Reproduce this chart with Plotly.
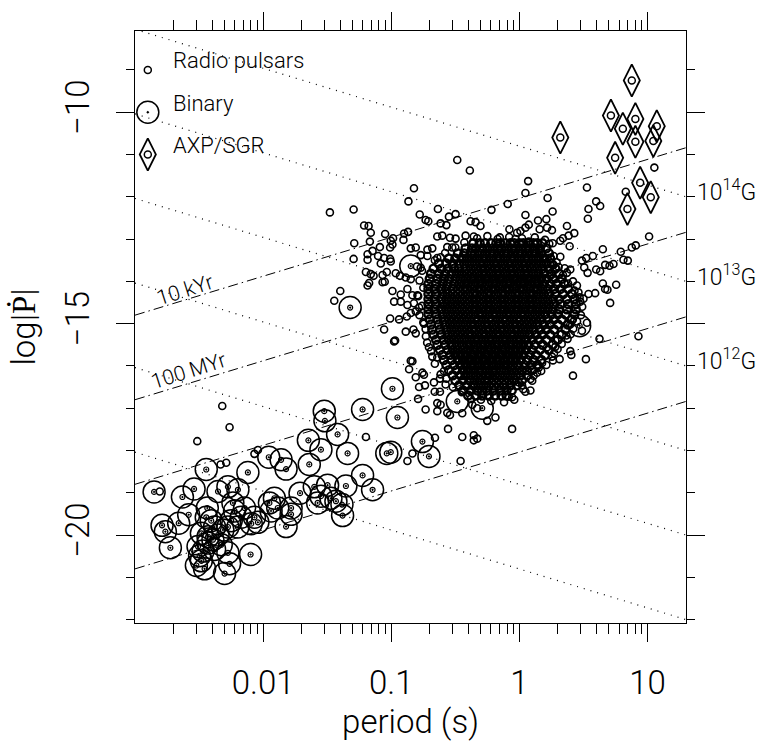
import numpy as np
import plotly.graph_objects as go

# ---------------- data ----------------
# all values: (log10 period [s], log10 |Pdot|)

# dense core of the radio-pulsar population, row by row (log|Pdot|, [log P ...])
radio_core_rows = [
    (-13.10, [-0.36,-0.31,-0.27,-0.22,-0.18,-0.15,-0.11,-0.07,-0.04,0.00,0.03,0.07,0.11,0.14,0.18]),
    (-13.22, [-0.42,-0.37,-0.34,-0.29,-0.25,-0.21,-0.17,-0.14,-0.10,-0.06,-0.03,0.01,0.05,0.08,0.12,0.16,0.21]),
    (-13.34, [-0.48,-0.43,-0.38,-0.35,-0.31,-0.27,-0.23,-0.20,-0.16,-0.12,-0.09,-0.05,-0.01,0.02,0.06,0.10,0.13,0.17,0.23]),
    (-13.46, [-0.55,-0.50,-0.45,-0.41,-0.37,-0.33,-0.29,-0.26,-0.22,-0.18,-0.15,-0.11,-0.07,-0.04,0.00,0.04,0.07,0.11,0.15,0.19,0.24]),
    (-13.58, [-0.63,-0.57,-0.52,-0.47,-0.43,-0.39,-0.35,-0.31,-0.28,-0.24,-0.20,-0.17,-0.13,-0.09,-0.06,-0.02,0.02,0.05,0.09,0.13,0.17,0.21,0.25]),
    (-13.70, [-0.67,-0.61,-0.56,-0.51,-0.47,-0.42,-0.38,-0.34,-0.30,-0.27,-0.23,-0.19,-0.16,-0.12,-0.08,-0.05,-0.01,0.03,0.06,0.10,0.14,0.18,0.23,0.28]),
    (-13.82, [-0.69,-0.63,-0.58,-0.53,-0.49,-0.45,-0.41,-0.37,-0.33,-0.29,-0.26,-0.22,-0.18,-0.15,-0.11,-0.07,-0.04,0.00,0.04,0.07,0.11,0.15,0.19,0.25,0.31]),
    (-13.94, [-0.70,-0.64,-0.59,-0.55,-0.50,-0.46,-0.42,-0.38,-0.35,-0.31,-0.27,-0.24,-0.20,-0.16,-0.13,-0.09,-0.05,-0.02,0.02,0.06,0.09,0.13,0.17,0.21,0.26,0.33]),
    (-14.06, [-0.71,-0.65,-0.60,-0.56,-0.51,-0.47,-0.43,-0.40,-0.36,-0.32,-0.29,-0.25,-0.21,-0.18,-0.14,-0.10,-0.07,-0.03,0.01,0.04,0.08,0.12,0.15,0.19,0.24,0.29,0.35]),
    (-14.18, [-0.71,-0.66,-0.61,-0.57,-0.52,-0.48,-0.44,-0.41,-0.37,-0.33,-0.30,-0.26,-0.22,-0.19,-0.15,-0.11,-0.08,-0.04,0.00,0.03,0.07,0.11,0.14,0.18,0.22,0.27,0.32,0.38]),
    (-14.30, [-0.71,-0.65,-0.60,-0.56,-0.52,-0.48,-0.44,-0.40,-0.36,-0.33,-0.29,-0.25,-0.22,-0.18,-0.14,-0.11,-0.07,-0.03,0.00,0.04,0.08,0.11,0.15,0.19,0.23,0.28,0.34,0.41]),
    (-14.42, [-0.71,-0.66,-0.61,-0.57,-0.53,-0.49,-0.45,-0.41,-0.37,-0.34,-0.30,-0.26,-0.23,-0.19,-0.15,-0.12,-0.08,-0.04,-0.01,0.03,0.07,0.10,0.14,0.18,0.22,0.26,0.31,0.37,0.43]),
    (-14.54, [-0.71,-0.65,-0.60,-0.56,-0.52,-0.48,-0.44,-0.40,-0.36,-0.33,-0.29,-0.25,-0.22,-0.18,-0.14,-0.11,-0.07,-0.03,0.00,0.04,0.08,0.11,0.15,0.19,0.23,0.27,0.32,0.38,0.44]),
    (-14.66, [-0.71,-0.66,-0.61,-0.57,-0.53,-0.49,-0.45,-0.41,-0.37,-0.34,-0.30,-0.26,-0.23,-0.19,-0.15,-0.12,-0.08,-0.04,-0.01,0.03,0.07,0.10,0.14,0.18,0.22,0.26,0.31,0.37,0.44]),
    (-14.78, [-0.71,-0.65,-0.60,-0.56,-0.52,-0.48,-0.44,-0.40,-0.36,-0.32,-0.29,-0.25,-0.21,-0.18,-0.14,-0.10,-0.07,-0.03,0.01,0.04,0.08,0.12,0.16,0.20,0.25,0.30,0.36,0.43]),
    (-14.90, [-0.70,-0.64,-0.59,-0.55,-0.51,-0.47,-0.43,-0.39,-0.35,-0.32,-0.28,-0.24,-0.21,-0.17,-0.13,-0.10,-0.06,-0.02,0.01,0.05,0.09,0.13,0.17,0.22,0.27,0.33,0.41]),
    (-15.02, [-0.69,-0.63,-0.58,-0.54,-0.50,-0.46,-0.42,-0.38,-0.35,-0.31,-0.27,-0.24,-0.20,-0.16,-0.13,-0.09,-0.05,-0.02,0.02,0.06,0.10,0.14,0.19,0.24,0.30,0.38]),
    (-15.14, [-0.68,-0.62,-0.57,-0.53,-0.49,-0.45,-0.41,-0.37,-0.34,-0.30,-0.26,-0.23,-0.19,-0.15,-0.12,-0.08,-0.04,-0.01,0.03,0.07,0.11,0.16,0.21,0.27,0.36]),
    (-15.26, [-0.67,-0.61,-0.56,-0.52,-0.48,-0.44,-0.40,-0.37,-0.33,-0.29,-0.26,-0.22,-0.18,-0.15,-0.11,-0.07,-0.04,0.00,0.04,0.08,0.13,0.18,0.24,0.33]),
    (-15.38, [-0.65,-0.59,-0.55,-0.51,-0.47,-0.43,-0.39,-0.35,-0.32,-0.28,-0.24,-0.21,-0.17,-0.13,-0.10,-0.06,-0.02,0.01,0.05,0.10,0.15,0.21,0.30]),
    (-15.50, [-0.64,-0.58,-0.53,-0.49,-0.45,-0.41,-0.38,-0.34,-0.30,-0.27,-0.23,-0.19,-0.16,-0.12,-0.08,-0.05,-0.01,0.03,0.07,0.12,0.18,0.26]),
    (-15.62, [-0.62,-0.56,-0.52,-0.48,-0.44,-0.40,-0.36,-0.33,-0.29,-0.25,-0.22,-0.18,-0.14,-0.11,-0.07,-0.03,0.01,0.05,0.10,0.16,0.23]),
    (-15.74, [-0.60,-0.54,-0.50,-0.46,-0.42,-0.38,-0.35,-0.31,-0.27,-0.24,-0.20,-0.16,-0.13,-0.09,-0.05,-0.01,0.03,0.08,0.13,0.20]),
    (-15.86, [-0.59,-0.53,-0.48,-0.44,-0.40,-0.37,-0.33,-0.29,-0.26,-0.22,-0.18,-0.15,-0.11,-0.07,-0.03,0.01,0.06,0.11,0.17]),
    (-15.98, [-0.57,-0.51,-0.46,-0.42,-0.38,-0.35,-0.31,-0.27,-0.24,-0.20,-0.16,-0.12,-0.09,-0.05,-0.01,0.04,0.09,0.14]),
    (-16.10, [-0.55,-0.49,-0.44,-0.40,-0.36,-0.32,-0.29,-0.25,-0.21,-0.18,-0.14,-0.10,-0.06,-0.02,0.02,0.06,0.10]),
    (-16.22, [-0.52,-0.46,-0.42,-0.38,-0.34,-0.30,-0.26,-0.23,-0.19,-0.15,-0.11,-0.07,-0.03,0.01,0.06]),
    (-16.34, [-0.50,-0.44,-0.39,-0.35,-0.31,-0.27,-0.24,-0.20,-0.16,-0.12,-0.08,-0.04,0.02]),
    (-16.46, [-0.47,-0.41,-0.36,-0.32,-0.28,-0.24,-0.20,-0.16,-0.12,-0.07,-0.02]),
    (-16.58, [-0.44,-0.38,-0.33,-0.29,-0.25,-0.20,-0.15,-0.10,-0.06]),
    (-16.70, [-0.40,-0.34,-0.29,-0.24,-0.19,-0.14,-0.10]),
]

# isolated radio pulsars around the core
radio_outer = [
    (-0.485,-11.13),(-0.387,-11.38),(-0.823,-11.80),(-0.866,-12.11),(-1.479,-12.37),(-1.294,-12.30),
    (-0.636,-12.29),(-0.778,-12.42),(-0.550,-12.47),(-0.498,-12.41),(-0.732,-12.55),(-0.711,-12.58),
    (-0.615,-12.63),(-0.570,-12.67),(-1.212,-12.68),(-1.177,-12.69),(-1.160,-12.85),(-1.048,-12.88),
    (-0.900,-12.87),(-0.869,-12.83),(-0.986,-12.98),(-1.004,-13.04),(-1.289,-13.10),(-1.167,-13.06),
    (-0.905,-13.02),(-0.641,-12.94),(-0.602,-12.92),(-0.542,-12.97),(-0.498,-12.99),(-0.420,-12.92),
    (-0.356,-12.94),(-1.089,-13.19),(-1.009,-13.20),(-0.991,-13.13),(-0.848,-13.22),(-0.809,-13.20),
    (-0.718,-13.25),(-0.680,-13.22),(-0.563,-13.19),(-0.524,-13.20),(-1.146,-13.28),(-1.185,-13.36),
    (-1.103,-13.40),(-1.056,-13.45),(-1.009,-13.47),(-1.294,-13.47),(-1.185,-13.49),(-1.082,-13.58),
    (-1.004,-13.53),(-0.770,-13.38),(-0.718,-13.40),(-0.641,-13.45),(-0.615,-13.43),(-0.800,-13.65),
    (-0.770,-13.68),(-1.198,-13.78),(-1.160,-13.83),(-1.138,-13.87),(-1.068,-13.85),(-1.035,-13.78),
    (-0.965,-13.81),(-0.932,-13.87),(-1.068,-14.02),(-1.051,-14.01),(-1.185,-14.10),(-1.173,-14.04),
    (-0.887,-13.91),(-0.848,-13.95),(-1.398,-14.23),(-0.991,-14.23),(-1.445,-14.46),(-0.926,-14.31),
    (-0.874,-14.18),(-0.835,-14.33),(-0.796,-14.33),(-0.978,-14.48),(-0.926,-14.48),(-0.874,-14.56),
    (-0.823,-14.52),
    (0.068,-11.63),(0.527,-11.78),(0.047,-11.91),(0.220,-12.03),(-0.091,-12.17),(-0.218,-12.31),
    (0.599,-12.11),(0.630,-12.22),(0.539,-12.29),(0.534,-12.52),(0.830,-11.88),(1.053,-11.31),
    (0.047,-12.43),(0.259,-12.35),(-0.342,-12.60),(-0.304,-12.69),(-0.381,-12.58),(0.145,-12.56),
    (0.210,-12.53),(0.073,-12.66),(0.047,-12.73),(0.158,-12.77),(0.216,-12.73),(0.254,-12.79),
    (0.371,-12.69),(0.428,-12.86),(0.384,-12.92),(-0.078,-12.77),(-0.018,-12.85),(0.008,-12.81),
    (-0.153,-12.96),(-0.031,-13.00),(0.319,-13.04),(0.340,-12.98),(0.233,-13.11),(0.073,-13.06),
    (0.086,-13.13),(0.392,-13.17),(1.012,-12.94),(0.908,-13.15),(0.877,-13.20),(0.791,-13.30),
    (0.651,-13.24),(0.812,-13.49),(0.846,-13.51),(0.573,-13.40),(0.521,-13.45),(0.488,-13.51),
    (0.267,-13.40),(0.319,-13.42),(0.158,-13.28),(0.177,-13.36),(0.202,-13.45),(0.669,-13.61),
    (0.703,-13.63),(0.734,-13.59),(0.599,-13.72),(0.630,-13.76),(0.506,-13.67),(0.532,-13.80),
    (0.755,-14.08),(0.651,-14.05),(0.669,-14.18),(0.687,-14.20),(0.591,-14.28),(0.539,-14.30),
    (0.708,-14.51),(0.500,-14.41),(0.475,-14.48),(0.418,-14.00),(0.449,-14.10),(0.430,-14.22),
    (0.461,-14.26),(0.371,-13.80),(0.353,-13.69),(0.397,-13.72),(0.267,-13.61),(0.306,-13.66),
    (0.202,-13.80),(0.241,-13.87),(0.280,-13.95),
    (-1.009,-14.88),(-0.939,-14.90),(-0.879,-14.83),(-0.848,-14.75),(-0.809,-14.71),(-0.783,-14.62),
    (-1.056,-15.14),(-0.887,-15.19),(-0.827,-15.14),(-0.809,-15.23),(-0.978,-15.42),(-0.970,-15.40),
    (-0.745,-15.00),(-0.732,-15.13),(-0.706,-15.56),(-0.680,-15.78),(-0.641,-15.80),(-0.848,-15.88),
    (-0.835,-15.89),(-0.861,-16.08),(-0.757,-16.16),(-0.745,-16.21),(-0.809,-16.27),(-0.667,-16.39),
    (-0.615,-16.20),(-0.589,-16.12),(-0.783,-16.50),(-0.737,-16.46),(-0.661,-16.61),(-0.620,-16.61),
    (-0.576,-16.44),(-0.791,-16.78),(-0.732,-17.03),(-0.641,-16.88),(-0.615,-16.92),(-0.641,-17.07),
    (-0.563,-17.11),(-0.542,-17.16),(-0.446,-17.12),(-0.557,-17.49),(-0.446,-17.68),(-0.356,-17.64),
    (-0.329,-17.72),(-0.356,-17.76),(-0.459,-18.25),(-1.198,-17.68),(-0.659,-17.70),(-0.368,-16.92),
    (-0.329,-17.00),
    (0.929,-15.30),(0.625,-15.36),(0.519,-15.84),(0.397,-15.65),(0.405,-15.74),(0.254,-15.78),
    (0.262,-15.87),(0.314,-15.84),(0.418,-16.23),(0.527,-14.98),(0.488,-15.17),(0.397,-15.02),
    (0.366,-15.28),(0.376,-15.36),(0.280,-15.55),(0.298,-15.60),(0.216,-15.56),(0.086,-16.58),
    (0.047,-16.61),(0.021,-16.46),(-0.005,-16.39),(-0.057,-16.74),(-0.083,-16.73),(-0.057,-17.49),
    (-0.187,-17.22),(-0.251,-17.30),(0.111,-16.23),(0.138,-16.16),(0.086,-16.31),(0.138,-15.97),
    (0.151,-16.04),(0.177,-15.93),(0.280,-15.40),
    (-2.319,-16.95),(-2.262,-17.45),(-2.514,-17.78),(-2.332,-18.33),(-2.288,-18.29),(-2.068,-18.08),
    (-2.041,-17.99),(-2.807,-18.97),(-0.874,-18.25),(-0.835,-18.07),
    # ragged rim of the core
    (-0.33,-12.98),(-0.25,-12.93),(-0.17,-13.00),(-0.08,-12.95),(0.02,-12.98),(0.12,-12.96),
    (0.20,-13.02),(0.26,-13.10),(-0.43,-13.08),(-0.50,-13.20),(-0.58,-13.33),(-0.66,-13.50),
    (-0.76,-13.75),(-0.78,-13.98),(-0.75,-14.15),(-0.79,-14.35),(-0.76,-14.58),(-0.78,-14.80),
    (-0.75,-14.97),(-0.73,-15.30),(-0.72,-15.45),(-0.69,-15.65),(-0.66,-15.95),(-0.62,-16.30),
    (0.29,-13.55),(0.34,-13.85),(0.38,-14.05),(0.47,-14.38),(0.49,-14.60),(0.48,-14.80),
    (0.45,-14.95),(0.42,-15.12),(0.40,-15.25),(0.33,-15.48),(0.27,-15.70),(0.21,-15.98),
    (0.17,-16.12),(0.10,-16.35),(0.03,-16.55),(-0.04,-16.80),(-0.12,-16.86),(-0.22,-16.83),
    (-0.30,-16.80),(-0.38,-16.78),(-0.45,-16.62),(-0.52,-16.50),(-0.57,-16.30),
]

# binary pulsars (big circles)
binary = [
    (-2.851,-18.98),(-2.630,-19.10),(-2.539,-18.91),(-2.444,-18.45),(-2.789,-19.77),(-2.763,-19.92),
    (-2.724,-20.30),(-2.659,-19.72),(-2.581,-19.52),(-2.436,-19.36),(-2.352,-18.97),(-2.275,-18.86),
    (-2.197,-18.93),(-2.119,-18.52),(-2.444,-19.58),(-2.405,-19.66),(-2.379,-19.81),(-2.482,-19.96),
    (-2.430,-20.04),(-2.392,-20.11),(-2.352,-20.00),(-2.314,-19.88),(-2.275,-19.81),(-2.508,-20.27),
    (-2.469,-20.38),(-2.430,-20.19),(-2.379,-20.34),(-2.327,-20.23),(-2.482,-20.61),(-2.521,-20.72),
    (-2.457,-20.80),(-2.496,-20.49),(-2.301,-20.91),(-2.262,-20.68),(-2.275,-20.42),(-2.098,-20.46),
    (-2.223,-19.43),(-2.171,-19.58),(-2.249,-19.66),(-2.197,-19.81),(-2.145,-19.36),(-2.236,-19.24),
    (-2.068,-19.58),(-2.041,-19.70),(-2.093,-19.73),(-1.951,-19.24),(-1.912,-19.13),(-1.886,-19.36),
    (-1.938,-19.43),(-1.821,-19.80),(-1.782,-19.36),(-1.782,-19.51),(-1.712,-19.01),(-1.640,-18.33),
    (-1.647,-17.76),(-1.523,-17.07),(-1.518,-17.30),(-1.549,-17.98),(-1.601,-18.86),(-1.549,-19.08),
    (-1.575,-19.24),(-1.497,-18.82),(-1.471,-19.13),(-1.432,-19.20),(-1.385,-19.28),(-1.380,-19.54),
    (-1.354,-18.84),(-1.419,-17.62),(-1.341,-18.07),(-1.224,-17.03),(-1.224,-18.59),(-1.146,-18.93),
    (-0.991,-16.54),(-0.952,-17.22),(-0.757,-17.79),(-0.706,-18.14),(-1.035,-18.07),(-1.004,-18.04),
    (-1.821,-18.44),(-1.860,-18.22),(-1.956,-18.16),(-1.321,-14.62),(-0.848,-13.64),(-0.485,-16.84),
    (-0.290,-17.00),(0.470,-15.05),
]

# anomalous X-ray pulsars / soft gamma repeaters (diamonds)
axp_sgr = [
    (0.877,-9.25),(0.714,-10.08),(0.905,-10.16),(0.807,-10.39),(1.072,-10.33),(0.905,-10.70),
    (1.045,-10.68),(0.319,-10.60),(0.747,-11.08),(0.942,-11.67),(1.025,-12.01),(0.843,-12.29),
]

# reference lines: constant dipole field (dotted) and characteristic age (dash-dot)
bfield_exponents = [14, 13, 12, 11, 10, 9]
bfield_logpdot_left = [-8.04, -10.04, -12.04, -14.04, -16.04, -18.04]
bfield_logpdot_right = [-12.00, -14.00, -16.00, -18.00, -20.00, -22.00]
bfield_labelled = [14, 13, 12]
age_logpdot_left = [-14.80, -16.80, -18.80, -20.80]
age_logpdot_right = [-10.84, -12.84, -14.84, -16.84]
age_labels = ["10 kYr", "100 MYr"]
age_label_pos = [(-2.607, -14.20), (-2.584, -16.12)]

legend_labels = ["Radio pulsars", "Binary", "AXP/SGR"]
legend_rows = [-9, -10, -11]

x_ticks = [0.01, 0.1, 1, 10]
x_ticktext = ["0.01", "0.1", "1", "10"]
y_ticks = [-10, -15, -20]
y_ticktext = ["\u221210", "\u221215", "\u221220"]

# ---------------- build ----------------
LOGP_MIN, LOGP_MAX = -3.0, 1.3
Y_MIN, Y_MAX = -22.08, -8.08
FONT = "Roboto"
W = 300

core_logP = [x for y, xs in radio_core_rows for x in xs]
core_logPdot = [y for y, xs in radio_core_rows for _ in xs]
outer_logP = [p for p, _ in radio_outer]
outer_logPdot = [d for _, d in radio_outer]
bin_logP = [p for p, _ in binary]
bin_logPdot = [d for _, d in binary]
mag_logP = [p for p, _ in axp_sgr]
mag_logPdot = [d for _, d in axp_sgr]

def P(v):
    return 10 ** np.asarray(v, dtype=float)

fig = go.Figure()

# dotted B-field lines
lx, ly = [], []
for a, b in zip(bfield_logpdot_left, bfield_logpdot_right):
    lx += [10 ** LOGP_MIN, 10 ** LOGP_MAX, None]
    ly += [a, b, None]
fig.add_trace(go.Scatter(x=lx, y=ly, mode="lines",
                         line=dict(color="black", width=1.2, dash="1px,6px"), hoverinfo="skip"))
# dash-dot age lines
lx, ly = [], []
for a, b in zip(age_logpdot_left, age_logpdot_right):
    lx += [10 ** LOGP_MIN, 10 ** LOGP_MAX, None]
    ly += [a, b, None]
fig.add_trace(go.Scatter(x=lx, y=ly, mode="lines",
                         line=dict(color="black", width=1, dash="10px,4px,1.5px,4px"), hoverinfo="skip"))

# radio pulsars: crowded core (rings overlap into a solid mass) and the scattered rest
fig.add_trace(go.Scatter(x=P(core_logP), y=core_logPdot, mode="markers",
                         marker=dict(symbol="circle-open", size=8, color="black", line=dict(width=2.4, color="black")),
                         hoverinfo="skip"))
fig.add_trace(go.Scatter(x=P(outer_logP), y=outer_logPdot, mode="markers",
                         marker=dict(symbol="circle-open", size=7, color="black", line=dict(width=1.6, color="black")),
                         hoverinfo="skip"))
# binaries
fig.add_trace(go.Scatter(x=P(bin_logP), y=bin_logPdot, mode="markers",
                         marker=dict(symbol="circle-open", size=22, color="black", line=dict(width=1.5, color="black")),
                         hoverinfo="skip"))
fig.add_trace(go.Scatter(x=P(bin_logP), y=bin_logPdot, mode="markers",
                         marker=dict(symbol="circle-open-dot", size=5, color="black", line=dict(width=1.2, color="black")),
                         hoverinfo="skip"))
# AXP / SGR
fig.add_trace(go.Scatter(x=P(mag_logP), y=mag_logPdot, mode="markers",
                         marker=dict(symbol="diamond-tall-open", size=23, color="black", line=dict(width=1.8, color="black")),
                         hoverinfo="skip"))
fig.add_trace(go.Scatter(x=P(mag_logP), y=mag_logPdot, mode="markers",
                         marker=dict(symbol="circle-open", size=7, color="black", line=dict(width=1.5, color="black")),
                         hoverinfo="skip"))

# legend keys
LEG_X = 10 ** -2.90
fig.add_trace(go.Scatter(x=[LEG_X], y=[legend_rows[0]], mode="markers",
                         marker=dict(symbol="circle-open", size=7, color="black", line=dict(width=1.5, color="black")),
                         hoverinfo="skip"))
fig.add_trace(go.Scatter(x=[LEG_X], y=[legend_rows[1]], mode="markers",
                         marker=dict(symbol="circle-open-dot", size=22, color="black", line=dict(width=1.5, color="black")),
                         hoverinfo="skip"))
fig.add_trace(go.Scatter(x=[LEG_X], y=[legend_rows[2]], mode="markers",
                         marker=dict(symbol="diamond-tall-open", size=23, color="black", line=dict(width=1.8, color="black")),
                         hoverinfo="skip"))
fig.add_trace(go.Scatter(x=[LEG_X], y=[legend_rows[2]], mode="markers",
                         marker=dict(symbol="circle-open", size=7, color="black", line=dict(width=1.5, color="black")),
                         hoverinfo="skip"))

annotations = []
for lab, row in zip(legend_labels, legend_rows):
    annotations.append(dict(x=-2.72, y=row, xref="x", yref="y", text=lab, showarrow=False,
                            xanchor="left", yanchor="middle", yshift=9,
                            font=dict(family=FONT, size=22, color="black", weight=W)))
for lab, (ax_, ay_) in zip(age_labels, age_label_pos):
    annotations.append(dict(x=ax_, y=ay_, xref="x", yref="y", text=lab, showarrow=False,
                            textangle=-17.7, xanchor="center", yanchor="middle",
                            font=dict(family=FONT, size=21, color="black", weight=W)))
for e in bfield_labelled:
    yv = bfield_logpdot_right[bfield_exponents.index(e)]
    annotations.append(dict(x=1.0, y=yv, xref="paper", yref="y", text=f"10<sup>{e}</sup>G",
                            showarrow=False, xanchor="left", yanchor="middle", xshift=9, yshift=6,
                            font=dict(family=FONT, size=23, color="black", weight=W)))

x_minor = [k * 10.0 ** e for e in range(-3, 1) for k in range(2, 10)]
y_minor = [v for v in range(-22, -7) if v not in y_ticks]

fig.update_layout(
    width=765, height=743,
    margin=dict(l=135, r=79, t=23, b=107),
    paper_bgcolor="white", plot_bgcolor="white",
    showlegend=False,
    font=dict(family=FONT, size=22, color="black", weight=W),
    annotations=annotations,
    xaxis=dict(type="log", range=[LOGP_MIN, LOGP_MAX], tickmode="array", tickvals=x_ticks, ticktext=x_ticktext,
               ticks="outside", ticklen=18, tickwidth=1, tickcolor="black",
               showline=True, linecolor="black", linewidth=1, mirror="allticks",
               showgrid=False, zeroline=False,
               tickfont=dict(family=FONT, size=33, color="black", weight=W),
               ticklabelstandoff=12,
               minor=dict(tickmode="array", tickvals=x_minor, ticks="outside", ticklen=10,
                          tickwidth=1, tickcolor="black", showgrid=False),
               title=dict(text="period (s)", standoff=6,
                          font=dict(family=FONT, size=33, color="black", weight=W))),
    yaxis=dict(range=[Y_MIN, Y_MAX], tickmode="array", tickvals=y_ticks, ticktext=y_ticktext,
               tickangle=-90,
               ticks="outside", ticklen=18, tickwidth=1, tickcolor="black",
               showline=True, linecolor="black", linewidth=1, mirror="allticks",
               showgrid=False, zeroline=False,
               tickfont=dict(family=FONT, size=33, color="black", weight=W),
               ticklabelstandoff=14,
               minor=dict(tickmode="array", tickvals=y_minor, ticks="outside", ticklen=8,
                          tickwidth=1, tickcolor="black", showgrid=False),
               title=dict(text="log|\u1E56|", standoff=12,
                          font=dict(family=FONT, size=33, color="black", weight=W))),
)

fig.write_html("out.html", config={"displayModeBar": False})
